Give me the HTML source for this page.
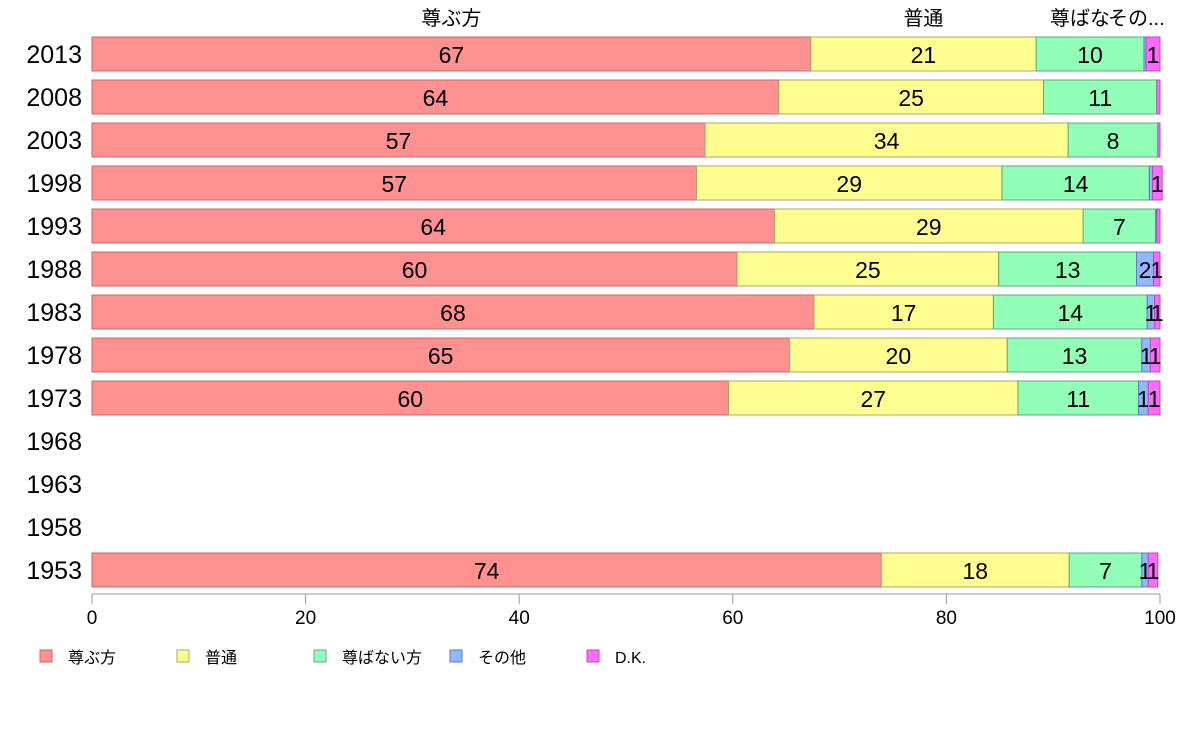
<!DOCTYPE html>
<html><head><meta charset="utf-8"><style>
body{margin:0;background:#fff;}
svg{display:block;font-family:"Liberation Sans","Noto Sans CJK JP",sans-serif;}
</style></head><body>
<svg id="c" width="1188" height="736"></svg>
<script>
const years=["2013","2008","2003","1998","1993","1988","1983","1978","1973","1968","1963","1958","1953"];
const seriesNames=["尊ぶ方","普通","尊ばない方","その他","D.K."];
const colors=["#ff9191","#ffff91","#91ffb8","#91b8ff","#ff6bff"];
const strokes=["#c86a6a","#a8a860","#5fa87c","#5f7cc0","#b050b0"];
const s0=[67.3,64.3,57.4,56.6,63.9,60.4,67.6,65.3,59.6,null,null,null,73.9];
const s1=[21.1,24.8,34.0,28.6,28.9,24.5,16.8,20.4,27.1,null,null,null,17.6];
const s2=[10.1,10.6,8.4,13.8,6.8,12.9,14.4,12.6,11.3,null,null,null,6.8];
const s3=[0.2,0.0,0.0,0.3,0.1,1.6,0.7,0.8,0.9,null,null,null,0.6];
const s4=[1.3,0.3,0.2,0.9,0.3,0.6,0.5,0.9,1.1,null,null,null,0.9];
const ticks=[0,20,40,60,80,100];
const series=[s0,s1,s2,s3,s4];
const svg=document.getElementById('c');const NS="http://www.w3.org/2000/svg";
function mk(t,a,p){const e=document.createElementNS(NS,t);for(const k in a)e.setAttribute(k,a[k]);(p||svg).appendChild(e);return e;}
const x=v=>92+v*10.68;
const y=i=>54+i*43;
const bh=34;
years.forEach((yr,i)=>{
  const t=mk('text',{x:82,y:y(i)+9,'text-anchor':'end','font-size':25,fill:'#000'});t.textContent=yr;
  
  
  if(s0[i]===null)return;
  let acc=0;
  series.forEach((s,k)=>{
    const v=s[i];const x0=x(acc);acc+=v;const w=x(acc)-x0;
    if(w<=0)return;
    const r=mk('rect',{x:x0,y:y(i)-bh/2,width:w,height:bh,fill:colors[k],stroke:strokes[k],'stroke-width':1});
    
    
    const rv=Math.round(v);
    if(rv>=1){const l=mk('text',{x:x0+w/2,y:y(i)+9,'text-anchor':'middle','font-size':23,fill:'#000'});l.textContent=rv;
      
      }
  });
});
// top header labels from 2013 row
let acc=0;const heads=[];
series.forEach((s,k)=>{const x0=x(acc);acc+=s[0];heads.push([x0,x(acc)]);});
[[0,"尊ぶ方"],[1,"普通"]].forEach(([k,txt])=>{const t=mk('text',{x:(heads[k][0]+heads[k][1])/2,y:25,'text-anchor':'middle','font-size':20,fill:'#000'});t.textContent=txt;
  
  });
const h2=mk('text',{x:1050,y:25,'font-size':20,fill:'#000'});h2.textContent="尊ばな";


const h3=mk('text',{x:1108,y:25,'font-size':20,fill:'#000'});h3.textContent="その...";


// axis
const ax=mk('line',{x1:92,x2:1160,y1:594,y2:594,stroke:'#999'});


ticks.forEach(v=>{mk('line',{x1:x(v),x2:x(v),y1:594,y2:604,stroke:'#999'});
  const t=mk('text',{x:x(v),y:624,'text-anchor':'middle','font-size':19,fill:'#000'});t.textContent=v;
  
  });
// legend
const lx=[40,177,314,450,587];
seriesNames.forEach((n,k)=>{
  const g=mk('g',{});
  
  
  mk('rect',{x:lx[k],y:650,width:12,height:12,fill:colors[k],stroke:strokes[k]},g);
  const t=mk('text',{x:lx[k]+28,y:663,'font-size':16,fill:'#000'},g);t.textContent=n;
});
</script>
</body></html>
